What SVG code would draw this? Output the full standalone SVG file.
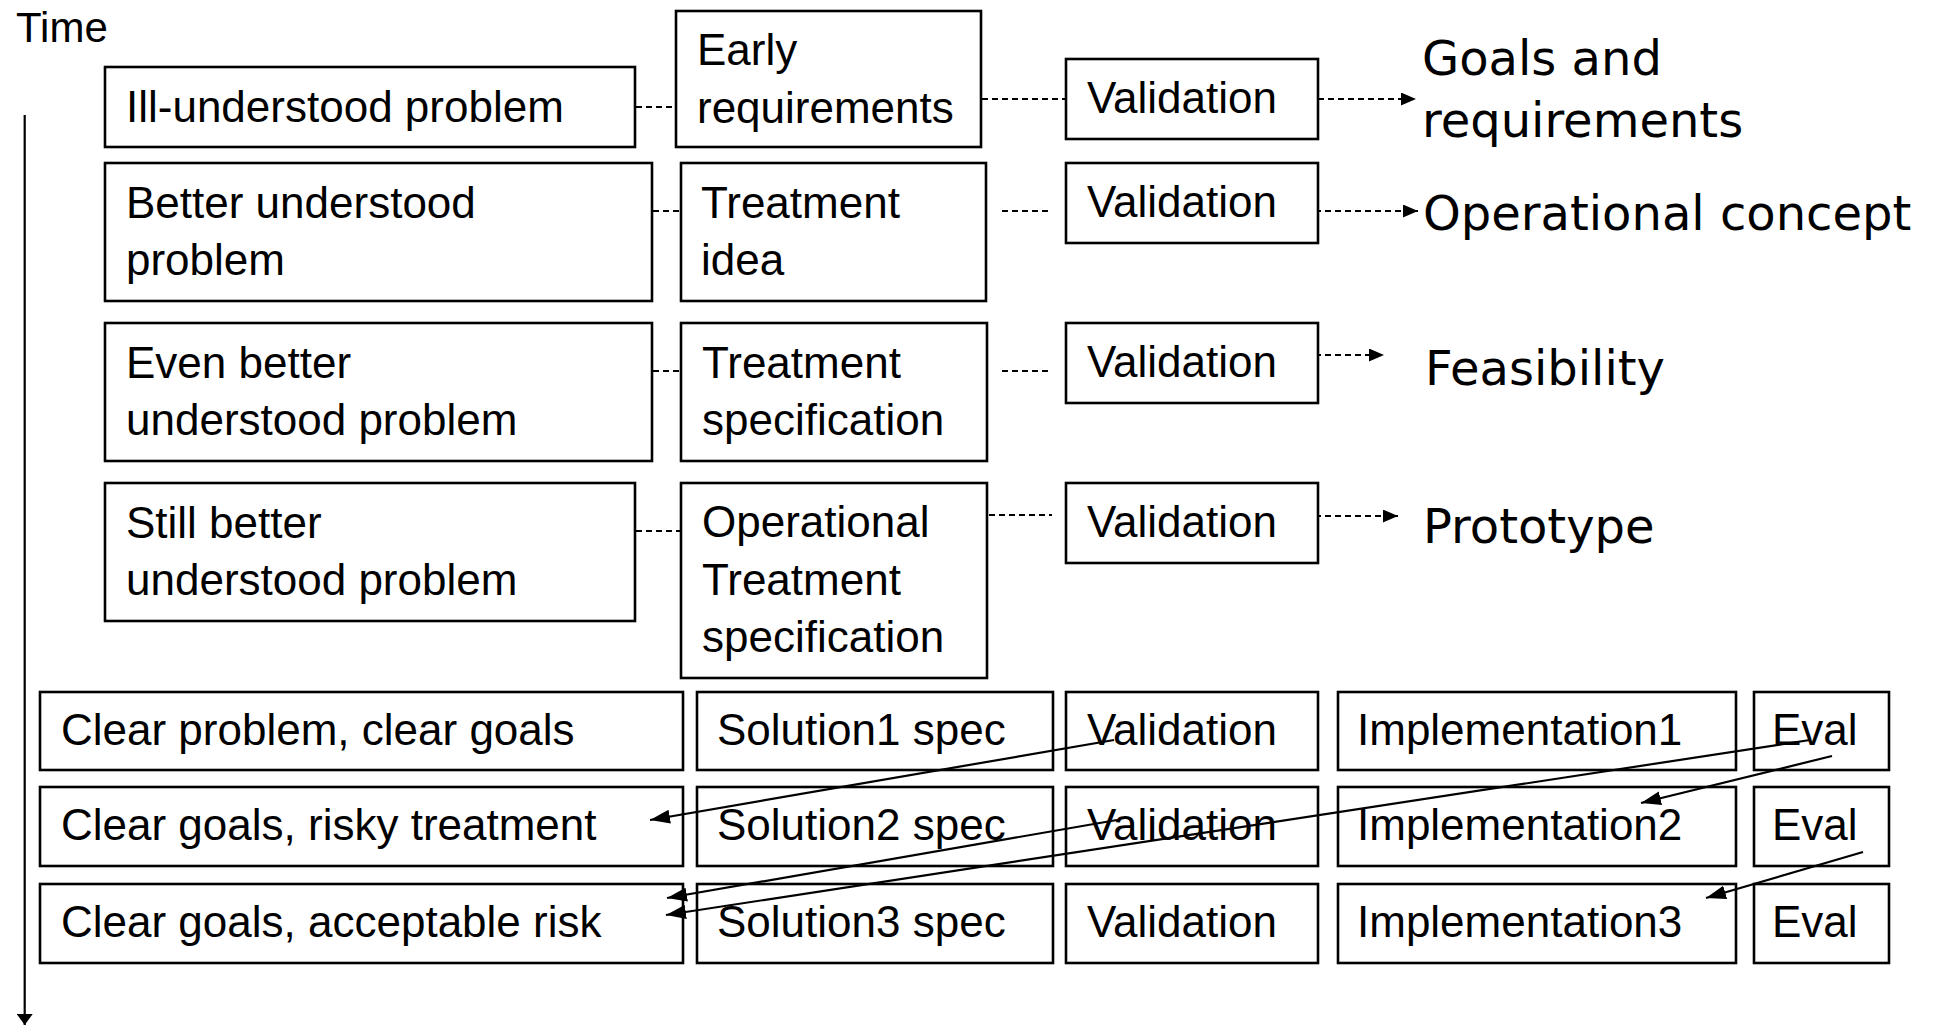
<svg xmlns="http://www.w3.org/2000/svg" width="1939" height="1025" viewBox="0 0 1939 1025">
<style>
  .box { fill: #ffffff; stroke: #000000; stroke-width: 2.6; }
  .t { font-family: "Liberation Sans", Arial, sans-serif; font-size: 44px; fill: #000000; }
  .h { font-family: "Comic Sans MS", "DejaVu Sans", sans-serif; font-size: 48px; fill: #000000; }
  .dash { stroke: #000000; stroke-width: 1.8; stroke-dasharray: 6 4; fill: none; }
  .solid { stroke: #000000; stroke-width: 2.2; fill: none; }
</style>
<defs>
  <marker id="ahDash" markerUnits="userSpaceOnUse" markerWidth="16" markerHeight="14" refX="15" refY="6.5" orient="auto">
    <path d="M0,0 L15,6.5 L0,13 Z" fill="#000000"/>
  </marker>
  <marker id="ahSolid" markerUnits="userSpaceOnUse" markerWidth="21" markerHeight="15" refX="20" refY="7" orient="auto">
    <path d="M0,0 L20,7 L0,14 Z" fill="#000000"/>
  </marker>
  <marker id="ahTime" markerUnits="userSpaceOnUse" markerWidth="12" markerHeight="16" refX="11" refY="8" orient="auto">
    <path d="M0,0 L11,8 L0,16 Z" fill="#000000"/>
  </marker>
</defs>
<rect width="1939" height="1025" fill="#ffffff"/>

<g id="time-axis">
  <text class="t" x="16" y="42" style="font-size:42px">Time</text>
  <line x1="24.7" y1="115" x2="24.7" y2="1025" class="solid" stroke-width="2" marker-end="url(#ahTime)"/>
</g>

<g id="connectors">
  <line class="dash" x1="636" y1="107" x2="676" y2="107"/>
  <line class="dash" x1="982" y1="99" x2="1066" y2="99"/>
  <line class="dash" x1="1318" y1="99" x2="1416" y2="99" marker-end="url(#ahDash)"/>
  <line class="dash" x1="653" y1="211" x2="681" y2="211"/>
  <line class="dash" x1="1002" y1="211" x2="1052" y2="211"/>
  <line class="dash" x1="1305" y1="211" x2="1418" y2="211" marker-end="url(#ahDash)"/>
  <line class="dash" x1="653" y1="371" x2="697" y2="371"/>
  <line class="dash" x1="1002" y1="371" x2="1052" y2="371"/>
  <line class="dash" x1="1305" y1="355" x2="1384" y2="355" marker-end="url(#ahDash)"/>
  <line class="dash" x1="636" y1="531" x2="681" y2="531"/>
  <line class="dash" x1="989" y1="515" x2="1052" y2="515"/>
  <line class="dash" x1="1305" y1="516" x2="1398" y2="516" marker-end="url(#ahDash)"/>
</g>

<g id="n-ill"><rect class="box" x="105" y="67" width="530" height="80"/><text class="t" x="126" y="122">Ill-understood problem</text></g>
<g id="n-early"><rect class="box" x="676" y="11" width="305" height="136"/><text class="t" x="697" y="65">Early</text><text class="t" x="697" y="123">requirements</text></g>
<g id="n-val1"><rect class="box" x="1066" y="59" width="252" height="80"/><text class="t" x="1087" y="113">Validation</text></g>

<g id="n-better"><rect class="box" x="105" y="163" width="547" height="138"/><text class="t" x="126" y="218">Better understood</text><text class="t" x="126" y="275">problem</text></g>
<g id="n-tidea"><rect class="box" x="681" y="163" width="305" height="138"/><text class="t" x="701" y="218">Treatment</text><text class="t" x="701" y="275">idea</text></g>
<g id="n-val2"><rect class="box" x="1066" y="163" width="252" height="80"/><text class="t" x="1087" y="217">Validation</text></g>

<g id="n-even"><rect class="box" x="105" y="323" width="547" height="138"/><text class="t" x="126" y="378">Even better</text><text class="t" x="126" y="435">understood problem</text></g>
<g id="n-tspec"><rect class="box" x="681" y="323" width="306" height="138"/><text class="t" x="702" y="378">Treatment</text><text class="t" x="702" y="435">specification</text></g>
<g id="n-val3"><rect class="box" x="1066" y="323" width="252" height="80"/><text class="t" x="1087" y="377">Validation</text></g>

<g id="n-still"><rect class="box" x="105" y="483" width="530" height="138"/><text class="t" x="126" y="538">Still better</text><text class="t" x="126" y="595">understood problem</text></g>
<g id="n-optreat"><rect class="box" x="681" y="483" width="306" height="195"/><text class="t" x="702" y="537">Operational</text><text class="t" x="702" y="595">Treatment</text><text class="t" x="702" y="652">specification</text></g>
<g id="n-val4"><rect class="box" x="1066" y="483" width="252" height="80"/><text class="t" x="1087" y="537">Validation</text></g>

<g id="n-goals"><text class="h" x="1422" y="75">Goals and</text><text class="h" x="1422" y="137">requirements</text></g>
<g id="n-opconcept"><text class="h" x="1423" y="230">Operational concept</text></g>
<g id="n-feas"><text class="h" x="1425" y="385">Feasibility</text></g>
<g id="n-proto"><text class="h" x="1423" y="543">Prototype</text></g>

<g id="n-clearA"><rect class="box" x="40" y="692" width="643" height="78"/><text class="t" x="61" y="745">Clear problem, clear goals</text></g>
<g id="n-sol1"><rect class="box" x="697" y="692" width="356" height="78"/><text class="t" x="717" y="745">Solution1 spec</text></g>
<g id="n-valA"><rect class="box" x="1066" y="692" width="252" height="78"/><text class="t" x="1087" y="745">Validation</text></g>
<g id="n-impl1"><rect class="box" x="1338" y="692" width="398" height="78"/><text class="t" x="1357" y="745">Implementation1</text></g>
<g id="n-eval1"><rect class="box" x="1754" y="692" width="135" height="78"/><text class="t" x="1772" y="745">Eval</text></g>

<g id="n-clearB"><rect class="box" x="40" y="787" width="643" height="79"/><text class="t" x="61" y="840">Clear goals, risky treatment</text></g>
<g id="n-sol2"><rect class="box" x="697" y="787" width="356" height="79"/><text class="t" x="717" y="840">Solution2 spec</text></g>
<g id="n-valB"><rect class="box" x="1066" y="787" width="252" height="79"/><text class="t" x="1087" y="840">Validation</text></g>
<g id="n-impl2"><rect class="box" x="1338" y="787" width="398" height="79"/><text class="t" x="1357" y="840">Implementation2</text></g>
<g id="n-eval2"><rect class="box" x="1754" y="787" width="135" height="79"/><text class="t" x="1772" y="840">Eval</text></g>

<g id="n-clearC"><rect class="box" x="40" y="884" width="643" height="79"/><text class="t" x="61" y="937">Clear goals, acceptable risk</text></g>
<g id="n-sol3"><rect class="box" x="697" y="884" width="356" height="79"/><text class="t" x="717" y="937">Solution3 spec</text></g>
<g id="n-valC"><rect class="box" x="1066" y="884" width="252" height="79"/><text class="t" x="1087" y="937">Validation</text></g>
<g id="n-impl3"><rect class="box" x="1338" y="884" width="398" height="79"/><text class="t" x="1357" y="937">Implementation3</text></g>
<g id="n-eval3"><rect class="box" x="1754" y="884" width="135" height="79"/><text class="t" x="1772" y="937">Eval</text></g>

<g id="feedback-connectors">
  <line class="solid" x1="1114" y1="740" x2="650" y2="820" marker-end="url(#ahSolid)"/>
  <line class="solid" x1="1810" y1="740" x2="666" y2="915" marker-end="url(#ahSolid)"/>
  <line class="solid" x1="1832" y1="756" x2="1641" y2="803" marker-end="url(#ahSolid)"/>
  <line class="solid" x1="1117" y1="820" x2="667" y2="898" marker-end="url(#ahSolid)"/>
  <line class="solid" x1="1863" y1="852" x2="1706" y2="898" marker-end="url(#ahSolid)"/>
</g>
</svg>
